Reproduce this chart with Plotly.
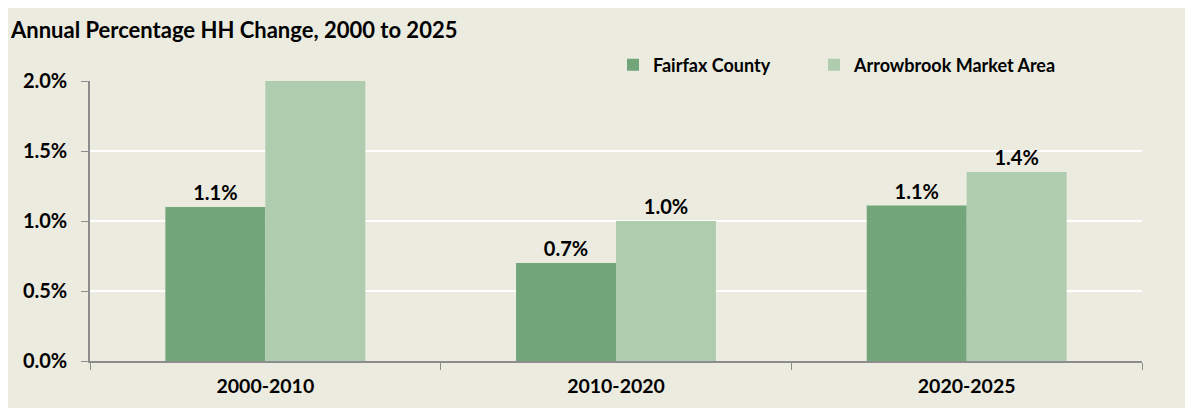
import plotly.graph_objects as go

periods = ["2000-2010", "2010-2020", "2020-2025"]
fairfax = [1.1, 0.7, 1.11]
arrowbrook = [2.0, 1.0, 1.35]
y_ticks = [0.0, 0.5, 1.0, 1.5, 2.0]
y_max = 2.0

title_text = "Annual Percentage HH Change, 2000 to 2025"
series_names = ["Fairfax County", "Arrowbrook Market Area"]
colors = ["#72A57A", "#AFCCAF"]
bg = "#EBEBDF"
FONT = "Lato"

W, H = 1193, 408
L, R, T, B = 82, 59, 73, 55
PW, PH = W - L - R, H - T - B


def labels(vals):
    return [f"{v:.1f}%" if v < y_max else "" for v in vals]


def px_x(p):
    return (p - L) / PW


def px_y(p):
    return (H - B - p) / PH


fig = go.Figure()
legend_ids = ["legend", "legend2"]
for name, vals, col, lg in zip(series_names, [fairfax, arrowbrook], colors, legend_ids):
    fig.add_trace(go.Bar(
        x=periods, y=vals, name=name, marker=dict(color=col, line=dict(width=0)),
        text=labels(vals), textposition="outside", cliponaxis=True,
        textfont=dict(family=FONT, size=20, color="#000000", weight="bold"),
        legend=lg,
    ))

legend_font = dict(family=FONT, size=18, color="#000000", weight="bold")
fig.update_layout(
    width=W, height=H,
    paper_bgcolor=bg, plot_bgcolor=bg,
    margin=dict(l=L, r=R, t=T, b=B, autoexpand=False),
    barmode="group", bargap=0.43, bargroupgap=0,
    title=dict(text=title_text, x=3 / W, xref="container", xanchor="left",
               y=1 - 22 / H, yref="container", yanchor="middle",
               font=dict(family=FONT, size=22, color="#000000", weight="bold")),
    legend=dict(orientation="h", x=px_x(605), xref="paper", xanchor="left",
                y=px_y(57), yref="paper", yanchor="middle",
                font=legend_font, bgcolor="rgba(0,0,0,0)"),
    legend2=dict(orientation="h", x=px_x(806), xref="paper", xanchor="left",
                 y=px_y(57), yref="paper", yanchor="middle",
                 font=legend_font, bgcolor="rgba(0,0,0,0)"),
    showlegend=True,
)
fig.update_yaxes(range=[0, y_max], tickvals=y_ticks, automargin=False,
                 ticktext=[f"{v:.1f}%" for v in y_ticks],
                 showgrid=True, gridcolor="#FFFFFF", gridwidth=2,
                 showline=True, linecolor="#8C8C8C", linewidth=1.5,
                 ticks="outside", ticklen=7, tickcolor="#8C8C8C",
                 ticklabelstandoff=10, zeroline=False,
                 tickfont=dict(family=FONT, size=20, color="#000000", weight="bold"))
fig.update_xaxes(showline=True, linecolor="#8C8C8C", linewidth=1.5, automargin=False,
                 ticks="outside", tickson="boundaries", ticklen=7, tickcolor="#8C8C8C",
                 ticklabelstandoff=7,
                 tickfont=dict(family=FONT, size=19.5, color="#000000", weight="bold"))

fig.write_html("out.html")
